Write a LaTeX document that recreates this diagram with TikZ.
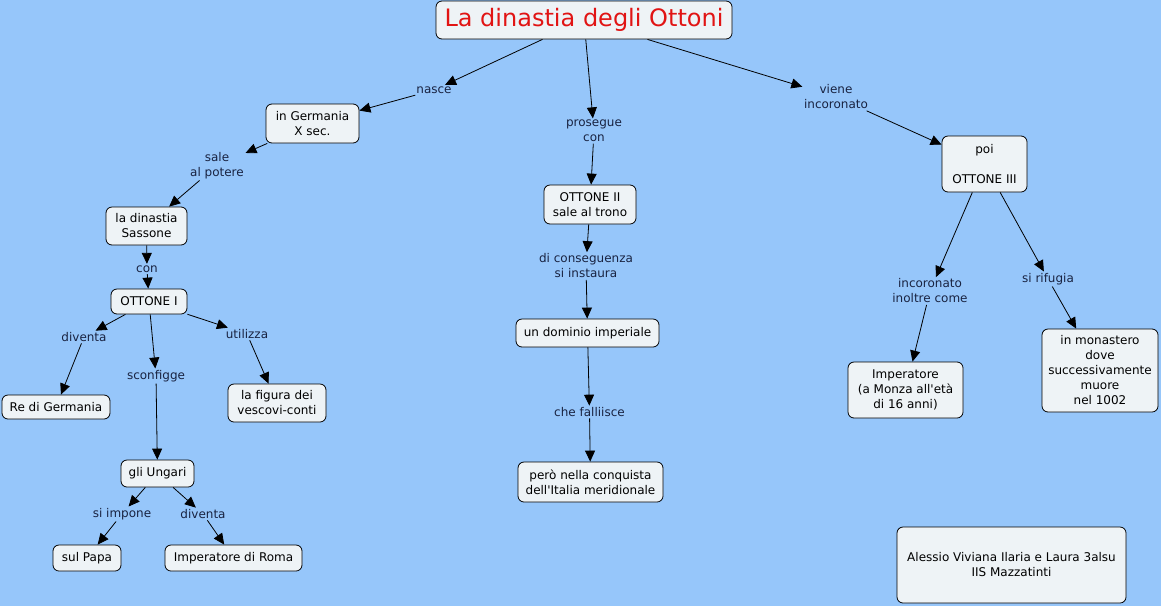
\documentclass[tikz,border=0pt]{standalone}
\usepackage{fontspec}
\setmainfont{DejaVu Sans}
\usetikzlibrary{arrows.meta}
\definecolor{bg}{RGB}{150,198,250}
\definecolor{boxfill}{RGB}{238,243,246}
\definecolor{lbltext}{RGB}{25,35,65}
\definecolor{titlered}{RGB}{225,20,20}
\tikzset{
  concept/.style={draw=black, line width=0.8pt, fill=boxfill, rounded corners=6pt,
    align=center, font=\fontsize{12}{15}\selectfont, inner sep=3pt},
  linklbl/.style={align=center, text=lbltext, font=\fontsize{12}{15}\selectfont, inner sep=1.5pt},
  conn/.style={draw=black, line width=0.8pt, -{Triangle[length=11pt,width=10pt]}},
}
\begin{document}
\begin{tikzpicture}[x=1pt,y=-1pt]
\fill[bg] (0,0) rectangle (1161,606);
\useasboundingbox (0,0) rectangle (1161,606);

% concepts
\node[concept, minimum width=296pt, minimum height=38pt, text=titlered,
      font=\fontsize{24}{28}\selectfont] (title) at (584,20) {La dinastia degli Ottoni};
\node[concept, minimum width=93pt, minimum height=39pt] (germ) at (312.5,123.5) {in Germania\\X sec.};
\node[concept, minimum width=81pt, minimum height=38pt] (sassone) at (146.5,226) {la dinastia\\Sassone};
\node[concept, minimum width=76pt, minimum height=25pt] (o1) at (149,301.5) {OTTONE I};
\node[concept, minimum width=108pt, minimum height=24pt] (re) at (56,407) {Re di Germania};
\node[concept, minimum width=98pt, minimum height=38pt] (figura) at (277,403) {la figura dei\\vescovi-conti};
\node[concept, minimum width=73pt, minimum height=27pt] (ungari) at (157.5,473.5) {gli Ungari};
\node[concept, minimum width=68pt, minimum height=26pt] (papa) at (87,558) {sul Papa};
\node[concept, minimum width=137pt, minimum height=26pt] (roma) at (233.5,558) {Imperatore di Roma};
\node[concept, minimum width=92pt, minimum height=39pt] (o2) at (590,204.5) {OTTONE II\\sale al trono};
\node[concept, minimum width=143pt, minimum height=28pt] (dominio) at (587.5,333) {un dominio imperiale};
\node[concept, minimum width=145pt, minimum height=40pt] (pero) at (590.5,482) {però nella conquista\\dell\textquotesingle Italia meridionale};
\node[concept, minimum width=85pt, minimum height=56pt] (o3) at (984.5,164) {poi\\[15pt]OTTONE III};
\node[concept, minimum width=115pt, minimum height=56pt] (imp) at (905.5,390) {Imperatore\\(a Monza all\textquotesingle età\\di 16 anni)};
\node[concept, minimum width=116pt, minimum height=83pt] (mon) at (1100,370.5) {in monastero\\dove\\successivamente\\muore\\nel 1002};
\node[concept, minimum width=229pt, minimum height=76pt] (alessio) at (1011.5,565) {Alessio Viviana Ilaria e Laura 3alsu\\IIS Mazzatinti};

% link labels
\node[linklbl] (nasce) at (434,90) {nasce};
\node[linklbl] (sale) at (217,165.5) {sale\\al potere};
\node[linklbl] (con) at (147,269) {con};
\node[linklbl] (div1) at (84,337) {diventa};
\node[linklbl] (sconf) at (156,376) {sconfigge};
\node[linklbl] (util) at (247,334) {utilizza};
\node[linklbl] (impone) at (122,514) {si impone};
\node[linklbl] (div2) at (203,514) {diventa};
\node[linklbl] (prosegue) at (594,131) {prosegue\\con};
\node[linklbl] (conseg) at (586,266) {di conseguenza\\si instaura};
\node[linklbl] (fall) at (589.5,412) {che falliisce};
\node[linklbl] (viene) at (836,97) {viene\\incoronato};
\node[linklbl] (incor) at (930,291) {incoronato\\inoltre come};
\node[linklbl] (rifugia) at (1048,279) {si rifugia};

% connectors
\draw[conn] (title) -- (nasce);
\draw[conn] (nasce) -- (germ);
\draw[conn] (germ) -- (sale);
\draw[conn] (sale) -- (sassone);
\draw[conn] (sassone) -- (con);
\draw[conn] (con) -- (o1);
\draw[conn] (o1) -- (div1);
\draw[conn] (div1) -- (re);
\draw[conn] (o1) -- (sconf);
\draw[conn] (sconf) -- (ungari);
\draw[conn] (o1) -- (util);
\draw[conn] (util) -- (figura);
\draw[conn] (ungari) -- (impone);
\draw[conn] (impone) -- (papa);
\draw[conn] (ungari) -- (div2);
\draw[conn] (div2) -- (roma);
\draw[conn] (title) -- (prosegue);
\draw[conn] (prosegue) -- (o2);
\draw[conn] (o2) -- (conseg);
\draw[conn] (conseg) -- (dominio);
\draw[conn] (dominio) -- (fall);
\draw[conn] (fall) -- (pero);
\draw[conn] (title) -- (viene);
\draw[conn] (viene) -- (o3);
\draw[conn] (o3) -- (incor);
\draw[conn] (incor) -- (imp);
\draw[conn] (o3) -- (rifugia);
\draw[conn] (rifugia) -- (mon);
\end{tikzpicture}
\end{document}
